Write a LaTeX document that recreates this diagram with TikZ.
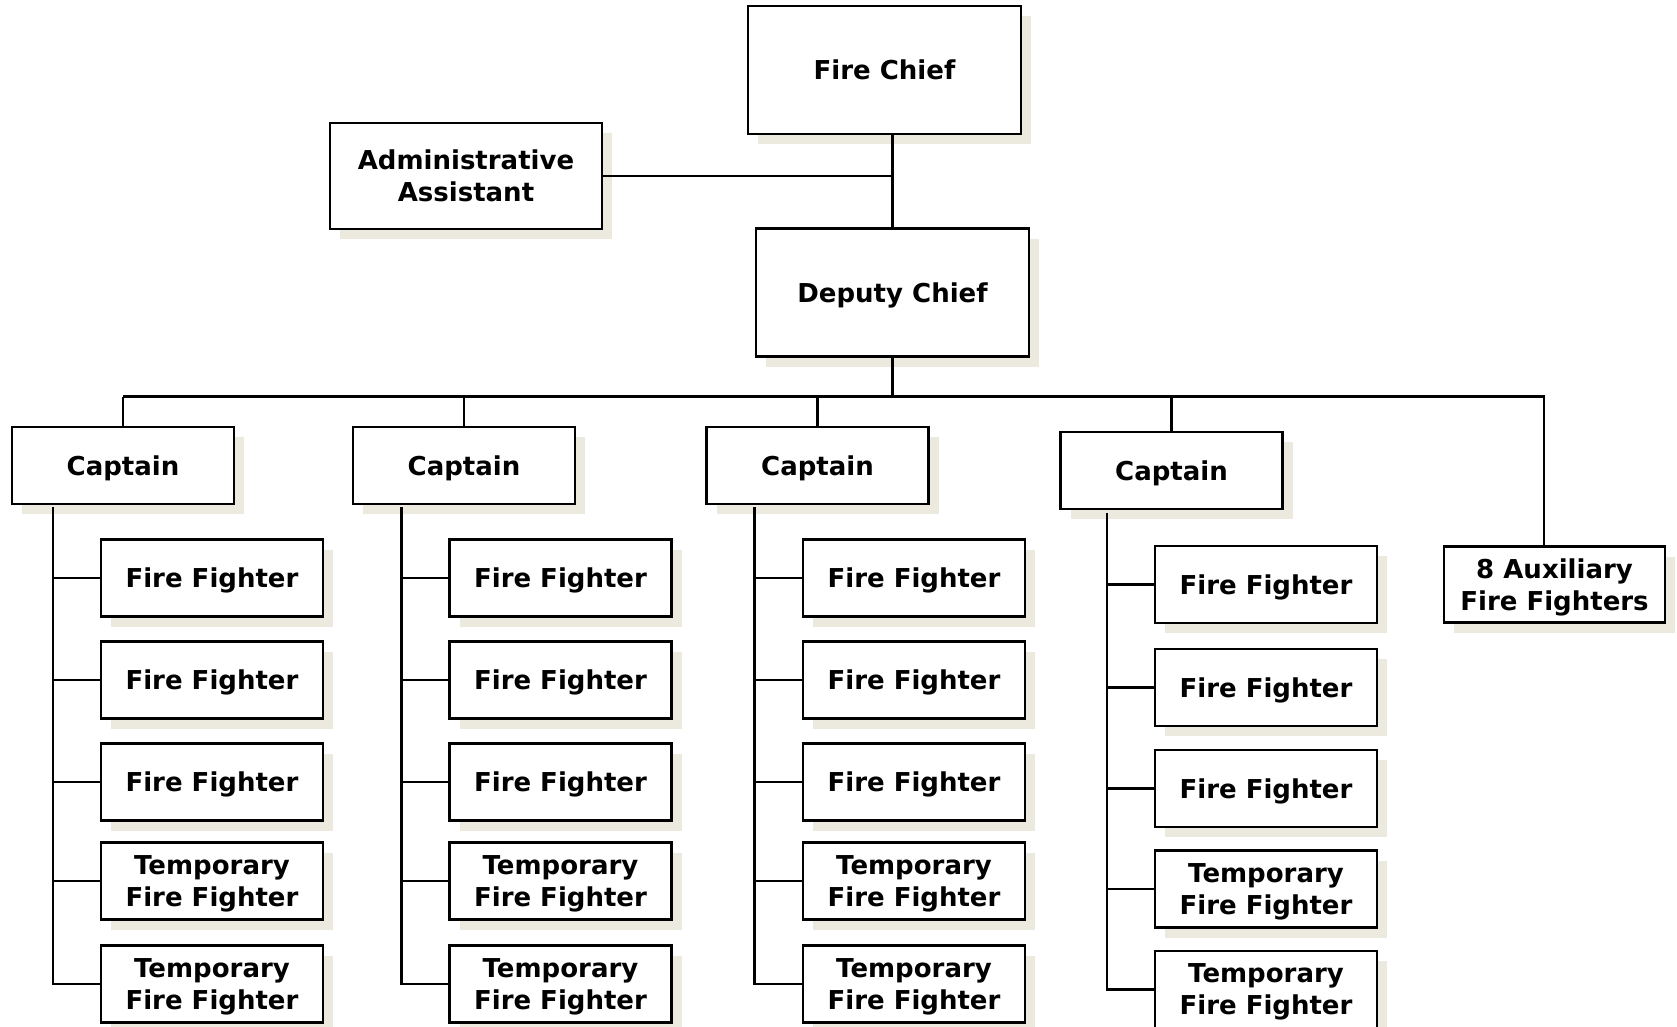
\documentclass[tikz,border=0pt]{standalone}
\usepackage{fontspec}
\setmainfont{DejaVu Sans}
\usepackage{tikz}
\usetikzlibrary{shadows}
\definecolor{shadowtan}{HTML}{ECE9DF}

\begin{document}
\begin{tikzpicture}[x=1pt, y=-1pt, line width=2.2pt,
      box/.style={draw, fill=white, align=center, inner sep=0pt, text depth=0pt,
            font=\fontsize{26}{32}\selectfont\bfseries,
            general shadow={fill=shadowtan, shadow xshift=10pt, shadow yshift=-10pt}},
      headbox/.style={box, minimum width=273pt, minimum height=128pt},
      rankbox/.style={box, minimum width=222pt, minimum height=77pt}]
      \useasboundingbox (0, 0) rectangle (1677, 1027);
      \node [headbox] (chief) at (884.5, 70) {Fire Chief};
      \node [headbox, minimum height=106pt, minimum width=272pt] (admin) at (466, 176) {Administrative\\Assistant};
      \node [headbox] (deputy) at (892.5, 292.5) {Deputy Chief};
      \path (123, 465.5) node [rankbox] (capa) {Captain}
            (464, 465.5) node [rankbox] (capb) {Captain}
            (817.5, 465.5) node [rankbox] (capc) {Captain}
            (1171.5, 470.5) node [rankbox] (capd) {Captain}
            (1554.5, 584.5) node [rankbox, minimum width=221pt, minimum height=76pt] (aux) {8 Auxiliary\\Fire Fighters};
      % first crew
      \path (212, 578) node [rankbox] (ffa1) {Fire Fighter}
            (212, 680) node [rankbox] (ffa2) {Fire Fighter}
            (212, 782) node [rankbox] (ffa3) {Fire Fighter}
            (212, 881) node [rankbox] (ffa4) {Temporary\\Fire Fighter}
            (212, 984) node [rankbox] (ffa5) {Temporary\\Fire Fighter};
      % second crew
      \path (560.5, 578) node [rankbox] (ffb1) {Fire Fighter}
            (560.5, 680) node [rankbox] (ffb2) {Fire Fighter}
            (560.5, 782) node [rankbox] (ffb3) {Fire Fighter}
            (560.5, 881) node [rankbox] (ffb4) {Temporary\\Fire Fighter}
            (560.5, 984) node [rankbox] (ffb5) {Temporary\\Fire Fighter};
      % third crew
      \path (914, 578) node [rankbox] (ffc1) {Fire Fighter}
            (914, 680) node [rankbox] (ffc2) {Fire Fighter}
            (914, 782) node [rankbox] (ffc3) {Fire Fighter}
            (914, 881) node [rankbox] (ffc4) {Temporary\\Fire Fighter}
            (914, 984) node [rankbox] (ffc5) {Temporary\\Fire Fighter};
      % fourth crew
      \path (1266, 584.5) node [rankbox] (ffd1) {Fire Fighter}
            (1266, 687.5) node [rankbox] (ffd2) {Fire Fighter}
            (1266, 788.5) node [rankbox] (ffd3) {Fire Fighter}
            (1266, 889) node [rankbox] (ffd4) {Temporary\\Fire Fighter}
            (1266, 989.5) node [rankbox] (ffd5) {Temporary\\Fire Fighter};
      \coordinate (bus) at (0, 396.5);
      \coordinate (auxdrop) at (1544, 396.5);
      \coordinate (spa) at (53, 507);
      \coordinate (spb) at (401.5, 507);
      \coordinate (spc) at (754.5, 507);
      \coordinate (spd) at (1107, 513);
      \draw (chief.south -| deputy.north) -- (deputy.north)
            (admin.east) -- (admin.east -| deputy.north)
            (deputy.south) -- (deputy.south |- bus)
            (capa.north |- bus) -- (auxdrop) -- (auxdrop |- aux.north)
            (capa.north |- bus) -- (capa.north)
            (capb.north |- bus) -- (capb.north)
            (capc.north |- bus) -- (capc.north)
            (capd.north |- bus) -- (capd.north);
      \draw (spa) |- (ffa5.west)
            (spa |- ffa1.west) -- (ffa1.west)
            (spa |- ffa2.west) -- (ffa2.west)
            (spa |- ffa3.west) -- (ffa3.west)
            (spa |- ffa4.west) -- (ffa4.west);
      \draw (spb) |- (ffb5.west)
            (spb |- ffb1.west) -- (ffb1.west)
            (spb |- ffb2.west) -- (ffb2.west)
            (spb |- ffb3.west) -- (ffb3.west)
            (spb |- ffb4.west) -- (ffb4.west);
      \draw (spc) |- (ffc5.west)
            (spc |- ffc1.west) -- (ffc1.west)
            (spc |- ffc2.west) -- (ffc2.west)
            (spc |- ffc3.west) -- (ffc3.west)
            (spc |- ffc4.west) -- (ffc4.west);
      \draw (spd) |- (ffd5.west)
            (spd |- ffd1.west) -- (ffd1.west)
            (spd |- ffd2.west) -- (ffd2.west)
            (spd |- ffd3.west) -- (ffd3.west)
            (spd |- ffd4.west) -- (ffd4.west);
\end{tikzpicture}
\end{document}
